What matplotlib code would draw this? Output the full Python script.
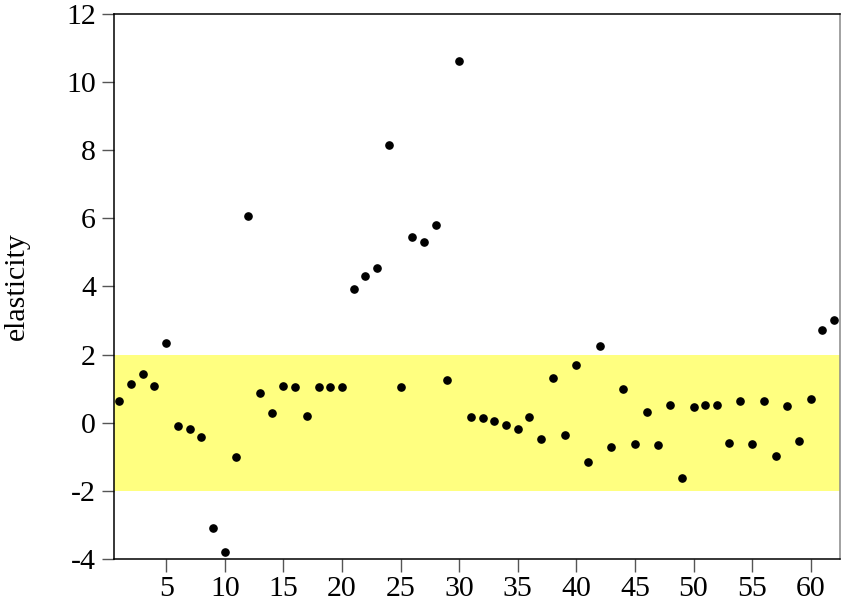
import numpy as np
import matplotlib.pyplot as plt

## Data: elasticity estimate for each observation (1..62)
obs = np.arange(1, 63)
elasticity = [0.65, 1.14, 1.42, 1.07, 2.33, -0.11, -0.19, -0.43, -3.08, -3.80,
              -1.02, 6.08, 0.87, 0.29, 1.09, 1.04, 0.21, 1.06, 1.06, 1.06,
              3.92, 4.32, 4.55, 8.16, 1.06, 5.45, 5.31, 5.80, 1.26, 10.61,
              0.16, 0.15, 0.05, -0.07, -0.18, 0.16, -0.49, 1.31, -0.35, 1.70,
              -1.15, 2.24, -0.72, 0.98, -0.61, 0.32, -0.64, 0.53, -1.61, 0.47,
              0.53, 0.53, -0.60, 0.65, -0.62, 0.64, -0.97, 0.48, -0.53, 0.70,
              2.72, 3.03]
band = [-2, 2]
xticks = [5, 10, 15, 20, 25, 30, 35, 40, 45, 50, 55, 60]
yticks = [-4, -2, 0, 2, 4, 6, 8, 10, 12]

plt.rcParams['font.family'] = ['Liberation Serif', 'DejaVu Serif']

fig = plt.figure(figsize=(8.41, 6.06), dpi=100)
ax = fig.add_axes([0.1356, 0.0776, 0.8632, 0.8993])

## shaded band between -2 and 2
ax.axhspan(band[0], band[1], color='#FFFF80', zorder=0, linewidth=0)
ax.plot(obs, elasticity, 'o', color='black', markersize=5.2, zorder=3)

ax.set_xlim(0.55, 62.5)
ax.set_ylim(-4, 12)
ax.set_xticks(xticks)
ax.set_yticks(yticks)
ax.set_yticklabels([str(v) for v in yticks])
ax.tick_params(axis='both', direction='out', length=9, width=1, labelsize=21.5, colors='black')
ax.tick_params(axis='y', pad=4, color='#555555')
ax.tick_params(axis='x', pad=3, color='#555555')
ax.set_ylabel('elasticity', fontsize=21.5, labelpad=26)

for side in ['top', 'bottom', 'left']:
    ax.spines[side].set_linewidth(1.1)
    ax.spines[side].set_color('black')
ax.spines['right'].set_color('#888888')
ax.spines['right'].set_linewidth(1.1)

plt.savefig('out.png', dpi=100)
